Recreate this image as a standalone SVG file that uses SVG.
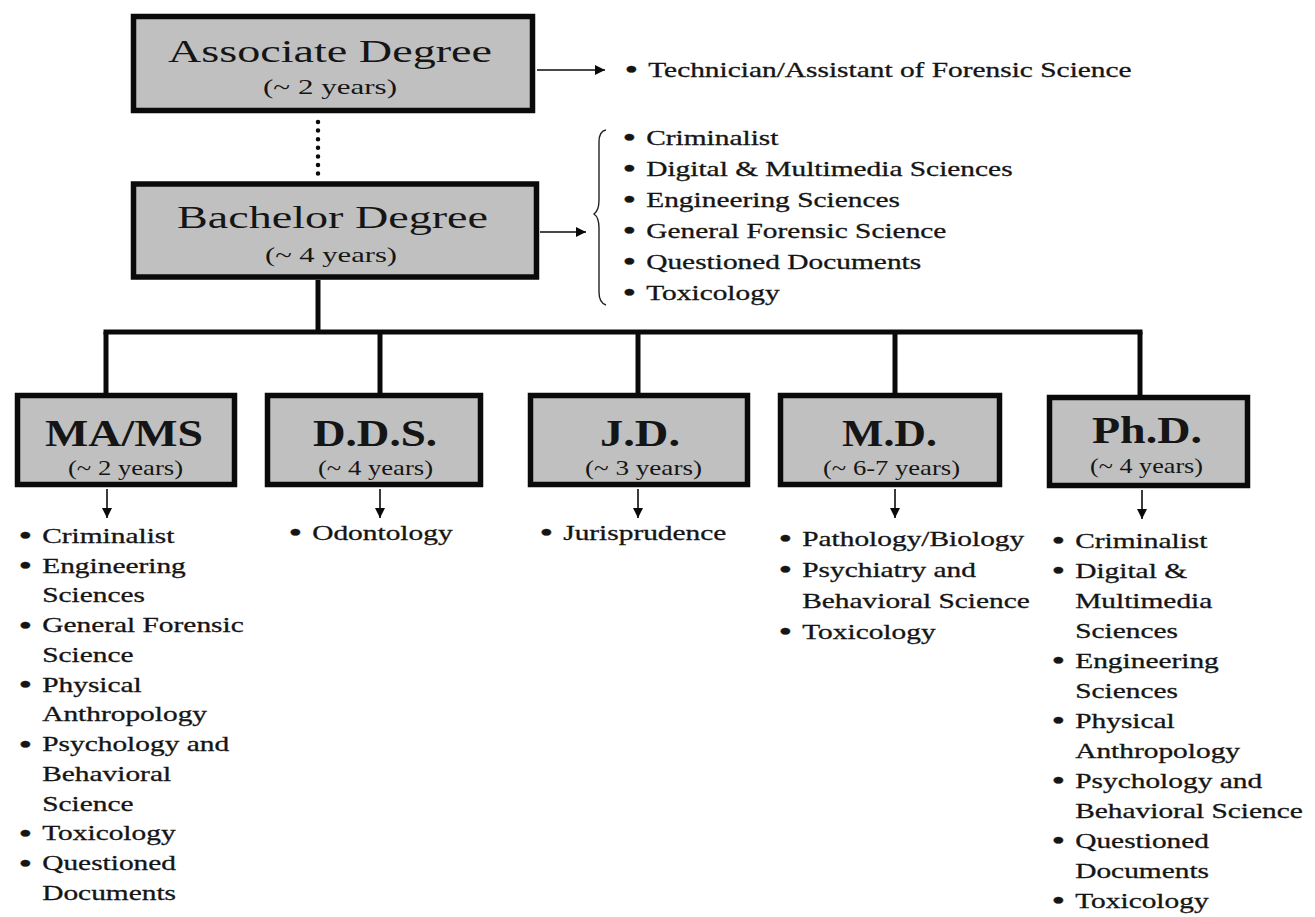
<svg xmlns="http://www.w3.org/2000/svg" width="1315" height="917" viewBox="0 0 1315 917">
  <style>
    .box { fill: #c0c0c0; stroke: #0a0a0a; stroke-width: 5.5; }
    .t { font-family: "Liberation Serif", "Times New Roman", serif; fill: #151515; }
    .h1 { font-size: 32px; }
    .h2 { font-size: 38px; font-weight: bold; }
    .sub { font-size: 21px; }
    .li { font-family: "Liberation Serif", "Times New Roman", serif; font-size: 21px; fill: #151515; stroke: #151515; stroke-width: 0.3; }
    .b { font-size: 28px; baseline-shift: -2.5px; }
    .wire { fill: none; stroke: #0a0a0a; stroke-width: 5; }
    .thin { fill: none; stroke: #0a0a0a; stroke-width: 1.6; }
    .dots { fill: none; stroke: #0a0a0a; stroke-width: 4.5; stroke-linecap: round; stroke-dasharray: 0 8.6; }
    .brace { fill: none; stroke: #222; stroke-width: 1.4; }
  </style>
  <defs>
    <marker id="tip" viewBox="0 0 10 10" refX="10" refY="5" markerWidth="12" markerHeight="10" markerUnits="userSpaceOnUse" orient="auto">
      <path d="M0,0 L10,5 L0,10 Z" fill="#0a0a0a"/>
    </marker>
  </defs>
  <rect width="1315" height="917" fill="#ffffff"/>

  <!-- connectors -->
  <g id="connectors">
    <line class="dots" x1="318" y1="122" x2="318" y2="177"/>
    <line class="thin" x1="537" y1="70" x2="605" y2="70" marker-end="url(#tip)"/>
    <line class="thin" x1="540" y1="232" x2="586" y2="232" marker-end="url(#tip)"/>
    <path class="brace" d="M606,130 C600,131 599,136 599,142 L599,200 C599,208 597,212 594,214 C597,216 599,220 599,228 L599,292 C599,298 600,303 606,305"/>
    <line class="wire" x1="318" y1="280" x2="318" y2="332"/>
    <line class="wire" x1="103.5" y1="332" x2="1142.5" y2="332"/>
    <line class="wire" x1="106" y1="332" x2="106" y2="393"/>
    <line class="wire" x1="380" y1="332" x2="380" y2="393"/>
    <line class="wire" x1="638" y1="332" x2="638" y2="393"/>
    <line class="wire" x1="895" y1="332" x2="895" y2="393"/>
    <line class="wire" x1="1140" y1="332" x2="1140" y2="395"/>
    <line class="thin" x1="107" y1="489" x2="107" y2="518" marker-end="url(#tip)"/>
    <line class="thin" x1="380" y1="489" x2="380" y2="518" marker-end="url(#tip)"/>
    <line class="thin" x1="638" y1="489" x2="638" y2="518" marker-end="url(#tip)"/>
    <line class="thin" x1="895" y1="489" x2="895" y2="518" marker-end="url(#tip)"/>
    <line class="thin" x1="1142" y1="490" x2="1142" y2="519" marker-end="url(#tip)"/>
  </g>

  <!-- degree boxes -->
  <g id="associate">
    <rect class="box" x="133.5" y="16.5" width="399" height="94"/>
    <text class="t h1" x="168" y="62" textLength="324" lengthAdjust="spacingAndGlyphs">Associate Degree</text>
    <text class="t sub" x="263" y="94" textLength="134" lengthAdjust="spacingAndGlyphs">(~ 2 years)</text>
  </g>
  <g id="bachelor">
    <rect class="box" x="133.5" y="184" width="403" height="93"/>
    <text class="t h1" x="177" y="228" textLength="311" lengthAdjust="spacingAndGlyphs">Bachelor Degree</text>
    <text class="t sub" x="265" y="262" textLength="132" lengthAdjust="spacingAndGlyphs">(~ 4 years)</text>
  </g>
  <g id="mams">
    <rect class="box" x="17.5" y="395.5" width="217" height="89"/>
    <text class="t h2" x="45" y="446" textLength="158" lengthAdjust="spacingAndGlyphs">MA/MS</text>
    <text class="t sub" x="68" y="475" textLength="115" lengthAdjust="spacingAndGlyphs">(~ 2 years)</text>
  </g>
  <g id="dds">
    <rect class="box" x="267.5" y="395.5" width="213" height="89"/>
    <text class="t h2" x="313" y="446" textLength="124" lengthAdjust="spacingAndGlyphs">D.D.S.</text>
    <text class="t sub" x="318" y="475" textLength="115" lengthAdjust="spacingAndGlyphs">(~ 4 years)</text>
  </g>
  <g id="jd">
    <rect class="box" x="530.5" y="395.5" width="217" height="89"/>
    <text class="t h2" x="600" y="446" textLength="80" lengthAdjust="spacingAndGlyphs">J.D.</text>
    <text class="t sub" x="585" y="475" textLength="117" lengthAdjust="spacingAndGlyphs">(~ 3 years)</text>
  </g>
  <g id="md">
    <rect class="box" x="780.5" y="395.5" width="219" height="89"/>
    <text class="t h2" x="842" y="446" textLength="95" lengthAdjust="spacingAndGlyphs">M.D.</text>
    <text class="t sub" x="823" y="475" textLength="137" lengthAdjust="spacingAndGlyphs">(~ 6-7 years)</text>
  </g>
  <g id="phd">
    <rect class="box" x="1049.5" y="397.5" width="198" height="88"/>
    <text class="t h2" x="1092" y="443" textLength="110" lengthAdjust="spacingAndGlyphs">Ph.D.</text>
    <text class="t sub" x="1090" y="473" textLength="113" lengthAdjust="spacingAndGlyphs">(~ 4 years)</text>
  </g>

  <!-- career lists -->
  <g id="list-associate" transform="translate(630,77) scale(1.4 1)">
    <text class="li"><tspan class="b" x="-4" y="0">•</tspan><tspan x="13">Technician/Assistant of Forensic Science</tspan></text>
  </g>
  <g id="list-bachelor" transform="translate(628,145) scale(1.4 1)">
    <text class="li">
      <tspan class="b" x="-4" y="0">•</tspan><tspan x="13">Criminalist</tspan>
      <tspan class="b" x="-4" y="31">•</tspan><tspan x="13">Digital &amp; Multimedia Sciences</tspan>
      <tspan class="b" x="-4" y="62">•</tspan><tspan x="13">Engineering Sciences</tspan>
      <tspan class="b" x="-4" y="93">•</tspan><tspan x="13">General Forensic Science</tspan>
      <tspan class="b" x="-4" y="124">•</tspan><tspan x="13">Questioned Documents</tspan>
      <tspan class="b" x="-4" y="155">•</tspan><tspan x="13">Toxicology</tspan>
    </text>
  </g>
  <g id="list-mams" transform="translate(24,543) scale(1.4 1)">
    <text class="li">
      <tspan class="b" x="-4" y="0">•</tspan><tspan x="13">Criminalist</tspan>
      <tspan class="b" x="-4" y="29.75">•</tspan><tspan x="13">Engineering</tspan>
      <tspan x="13" y="59.5">Sciences</tspan>
      <tspan class="b" x="-4" y="89.25">•</tspan><tspan x="13">General Forensic</tspan>
      <tspan x="13" y="119">Science</tspan>
      <tspan class="b" x="-4" y="148.75">•</tspan><tspan x="13">Physical</tspan>
      <tspan x="13" y="178.5">Anthropology</tspan>
      <tspan class="b" x="-4" y="208.25">•</tspan><tspan x="13">Psychology and</tspan>
      <tspan x="13" y="238">Behavioral</tspan>
      <tspan x="13" y="267.75">Science</tspan>
      <tspan class="b" x="-4" y="297.5">•</tspan><tspan x="13">Toxicology</tspan>
      <tspan class="b" x="-4" y="327.25">•</tspan><tspan x="13">Questioned</tspan>
      <tspan x="13" y="357">Documents</tspan>
    </text>
  </g>
  <g id="list-dds" transform="translate(294,540) scale(1.4 1)">
    <text class="li"><tspan class="b" x="-4" y="0">•</tspan><tspan x="13">Odontology</tspan></text>
  </g>
  <g id="list-jd" transform="translate(545,540) scale(1.4 1)">
    <text class="li"><tspan class="b" x="-4" y="0">•</tspan><tspan x="13">Jurisprudence</tspan></text>
  </g>
  <g id="list-md" transform="translate(784,546) scale(1.4 1)">
    <text class="li">
      <tspan class="b" x="-4" y="0">•</tspan><tspan x="13">Pathology/Biology</tspan>
      <tspan class="b" x="-4" y="31">•</tspan><tspan x="13">Psychiatry and</tspan>
      <tspan x="13" y="62">Behavioral Science</tspan>
      <tspan class="b" x="-4" y="93">•</tspan><tspan x="13">Toxicology</tspan>
    </text>
  </g>
  <g id="list-phd" transform="translate(1057,548) scale(1.4 1)">
    <text class="li">
      <tspan class="b" x="-4" y="0">•</tspan><tspan x="13">Criminalist</tspan>
      <tspan class="b" x="-4" y="30">•</tspan><tspan x="13">Digital &amp;</tspan>
      <tspan x="13" y="60">Multimedia</tspan>
      <tspan x="13" y="90">Sciences</tspan>
      <tspan class="b" x="-4" y="120">•</tspan><tspan x="13">Engineering</tspan>
      <tspan x="13" y="150">Sciences</tspan>
      <tspan class="b" x="-4" y="180">•</tspan><tspan x="13">Physical</tspan>
      <tspan x="13" y="210">Anthropology</tspan>
      <tspan class="b" x="-4" y="240">•</tspan><tspan x="13">Psychology and</tspan>
      <tspan x="13" y="270">Behavioral Science</tspan>
      <tspan class="b" x="-4" y="300">•</tspan><tspan x="13">Questioned</tspan>
      <tspan x="13" y="330">Documents</tspan>
      <tspan class="b" x="-4" y="360">•</tspan><tspan x="13">Toxicology</tspan>
    </text>
  </g>
</svg>
